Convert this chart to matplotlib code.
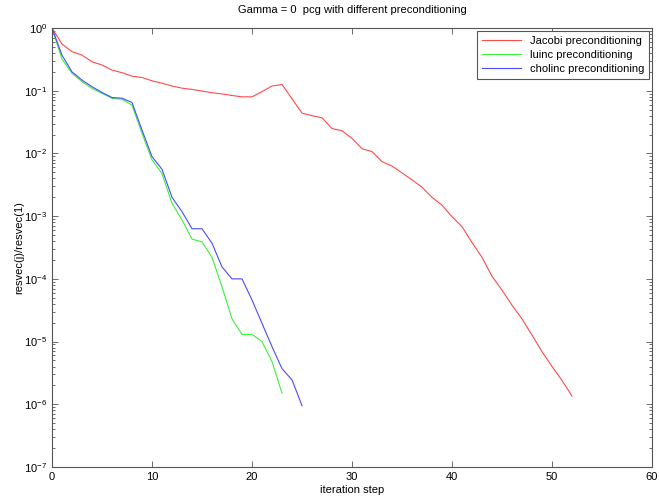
import matplotlib.pyplot as plt
from matplotlib.ticker import NullFormatter

plt.rcParams['font.family'] = ['Liberation Sans', 'DejaVu Sans']

# residual history (resvec(j)/resvec(1))
jacobi = [1.0, 0.556, 0.42, 0.37, 0.29, 0.257, 0.214, 0.194, 0.171, 0.163,
          0.144, 0.132, 0.119, 0.110, 0.105, 0.099, 0.093, 0.089, 0.084, 0.080,
          0.080, 0.097, 0.119, 0.126, 0.0745, 0.044, 0.040, 0.037, 0.025, 0.023,
          0.0174, 0.0119, 0.0107, 0.0074, 0.0063, 0.0049, 0.0038, 0.0029, 0.0020, 0.0015,
          9.8e-4, 6.8e-4, 3.8e-4, 2.2e-4, 1.1e-4, 6.6e-5, 3.8e-5, 2.3e-5, 1.27e-5, 6.9e-6,
          4.0e-6, 2.4e-6, 1.35e-6]
luinc = [1.0, 0.32, 0.19, 0.14, 0.109, 0.091, 0.076, 0.073, 0.059, 0.021,
         0.0079, 0.0048, 0.0016, 8.7e-4, 4.3e-4, 3.9e-4, 2.2e-4, 7.5e-5, 2.3e-5, 1.3e-5,
         1.3e-5, 1.0e-5, 4.8e-6, 1.5e-6]
cholinc = [1.0, 0.37, 0.2, 0.148, 0.116, 0.094, 0.078, 0.076, 0.065, 0.0236,
           0.0089, 0.0056, 0.0020, 0.00118, 6.3e-4, 6.3e-4, 3.7e-4, 1.55e-4, 1.0e-4, 1.0e-4,
           4.6e-5, 1.95e-5, 8.3e-6, 3.7e-6, 2.45e-6, 9.5e-7]
decades = [1e-7, 1e-6, 1e-5, 1e-4, 1e-3, 1e-2, 1e-1, 1e0]

fig = plt.figure(figsize=(6.59, 5.01), dpi=100)
ax = fig.add_axes([0.0789, 0.0679, 0.9105, 0.8761])

ax.semilogy(range(len(jacobi)), jacobi, color='#ff4a4a', lw=0.8, label='Jacobi preconditioning')
ax.semilogy(range(len(luinc)), luinc, color='#3cf03c', lw=0.8, label='luinc preconditioning')
ax.semilogy(range(len(cholinc)), cholinc, color='#4a4aff', lw=0.8, label='cholinc preconditioning')

ax.set_xlim(0, 60)
ax.set_ylim(1e-7, 1)
ax.set_xticks(range(0, 61, 10))
ax.set_yticks(decades)
ax.set_yticks([d * k for d in decades[:-1] for k in range(2, 10)], minor=True)
ax.yaxis.set_minor_formatter(NullFormatter())
ax.tick_params(which='both', direction='in', top=True, right=True, labelsize=8,
               width=0.6, color='#555555')
ax.tick_params(which='major', length=4)
ax.tick_params(which='minor', length=2)
for s in ax.spines.values():
    s.set_linewidth(0.8)
    s.set_color('#555555')

ax.set_title('Gamma = 0  pcg with different preconditioning', fontsize=8, pad=11)
ax.set_xlabel('iteration step', fontsize=8, labelpad=2)
ax.set_ylabel('resvec(j)/resvec(1)', fontsize=8, labelpad=0)

leg = ax.legend(loc='upper right', fontsize=8, fancybox=False, framealpha=1,
                edgecolor='#555555', borderaxespad=0.25, handlelength=3.5,
                labelspacing=0.35, borderpad=0.45)
leg.get_frame().set_linewidth(0.8)

plt.savefig('out.png', dpi=100)
